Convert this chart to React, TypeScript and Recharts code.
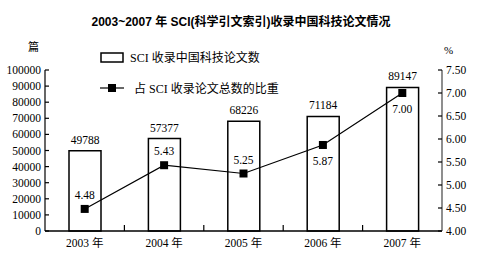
import { ComposedChart, Bar, Line, XAxis, YAxis, LabelList } from 'recharts';

const years = ['2003 年', '2004 年', '2005 年', '2006 年', '2007 年'];
const papers = [49788, 57377, 68226, 71184, 89147];
const share = [4.48, 5.43, 5.25, 5.87, 7.0];
const leftTicks = [0, 10000, 20000, 30000, 40000, 50000, 60000, 70000, 80000, 90000, 100000];
const rightTicks = [4, 4.5, 5, 5.5, 6, 6.5, 7, 7.5];
const shareLabelBelow = [false, false, false, true, true];

const data = years.map((y, i) => ({ year: y, papers: papers[i], share: share[i] }));

const serif = '"Liberation Serif", "Noto Sans CJK SC", serif';
const sans = '"Liberation Sans", "Noto Sans CJK SC", sans-serif';

// half of a category band (plot width 397 / 5 categories / 2)
const HALF_BAND = 39.7;

function BottomTick(props: any) {
    const { x, y, payload, index } = props;
    return (
        <g>
            {index < years.length - 1 && (
                <line x1={x + HALF_BAND} x2={x + HALF_BAND} y1={y} y2={y - 6} stroke="#000" strokeWidth={1.2} />
            )}
            <text x={x} y={y} dy={16} textAnchor="middle" fontSize={11.5} fontFamily={serif} fill="#000">
                {payload.value}
            </text>
        </g>
    );
}

function LeftTick(props: any) {
    const { x, y, payload } = props;
    return (
        <g>
            <line x1={x + 4} x2={x + 8} y1={y} y2={y} stroke="#000" strokeWidth={1.2} />
            <text x={x} y={y} dy={4} textAnchor="end" fontSize={11.5} fontFamily={serif} fill="#000">
                {payload.value}
            </text>
        </g>
    );
}

function RightTick(props: any) {
    const { x, y, payload } = props;
    return (
        <g>
            <line x1={x - 8} x2={x - 4} y1={y} y2={y} stroke="#000" strokeWidth={1.2} />
            <text x={x} y={y} dy={4} textAnchor="start" fontSize={11.5} fontFamily={serif} fill="#000">
                {Number(payload.value).toFixed(2)}
            </text>
        </g>
    );
}

function ShareLabel(props: any) {
    const { x, y, value, index } = props;
    const below = shareLabelBelow[index];
    return (
        <text x={x} y={below ? y + 20 : y - 10} textAnchor="middle" fontSize={11.5} fontFamily={serif} fill="#000">
            {Number(value).toFixed(2)}
        </text>
    );
}

export default function App() {
    return (
        <div style={{ position: 'absolute', left: 0, top: 0, width: 479, height: 257, background: '#fff' }}>
            <ComposedChart
                width={479}
                height={257}
                data={data}
                margin={{ top: 70, right: 0, left: 0, bottom: 2 }}
                barSize={32}
            >
                <text x={241} y={26} textAnchor="middle" fontSize={12} fontWeight="bold" fontFamily={sans} fill="#000">
                    2003~2007 年 SCI(科学引文索引)收录中国科技论文情况
                </text>
                <text x={28} y={51} fontSize={11} fontFamily={sans} fill="#000">篇</text>
                <text x={444} y={54} fontSize={11} fontFamily={serif} fill="#000">%</text>
                <g>
                    <rect x={101} y={53} width={22} height={9} fill="#fff" stroke="#000" strokeWidth={1.5} />
                    <text x={130} y={62} fontSize={12} fontFamily={serif} fill="#000">SCI 收录中国科技论文数</text>
                    <line x1={100} x2={124} y1={88} y2={88} stroke="#000" strokeWidth={1.2} />
                    <rect x={108} y={84} width={8} height={8} fill="#000" />
                    <text x={134} y={93} fontSize={12} fontFamily={serif} fill="#000">占 SCI 收录论文总数的比重</text>
                </g>
                <XAxis
                    dataKey="year"
                    height={24}
                    axisLine={{ stroke: '#000', strokeWidth: 1.5 }}
                    tickLine={false}
                    tickSize={0}
                    tickMargin={0}
                    interval={0}
                    tick={<BottomTick />}
                />
                <YAxis
                    yAxisId="left"
                    width={45}
                    domain={[0, 100000]}
                    ticks={leftTicks}
                    interval={0}
                    axisLine={{ stroke: '#000', strokeWidth: 1.2 }}
                    tickLine={false}
                    tickSize={0}
                    tickMargin={4}
                    tick={<LeftTick />}
                />
                <YAxis
                    yAxisId="right"
                    orientation="right"
                    width={37}
                    domain={[4, 7.5]}
                    ticks={rightTicks}
                    interval={0}
                    axisLine={{ stroke: '#444', strokeWidth: 1.2 }}
                    tickLine={false}
                    tickSize={0}
                    tickMargin={4}
                    tick={<RightTick />}
                />
                <Bar
                    yAxisId="left"
                    dataKey="papers"
                    fill="#fff"
                    stroke="#000"
                    strokeWidth={1.5}
                    isAnimationActive={false}
                >
                    <LabelList dataKey="papers" position="top" offset={7} style={{ fontSize: 11.5, fontFamily: serif, fill: '#000' }} />
                </Bar>
                <Line
                    yAxisId="right"
                    dataKey="share"
                    stroke="#000"
                    strokeWidth={1.2}
                    type="linear"
                    dot={(p: any) => <rect key={p.index} x={p.cx - 4} y={p.cy - 4} width={8} height={8} fill="#000" />}
                    isAnimationActive={false}
                >
                    <LabelList dataKey="share" content={<ShareLabel />} />
                </Line>
            </ComposedChart>
        </div>
    );
}
